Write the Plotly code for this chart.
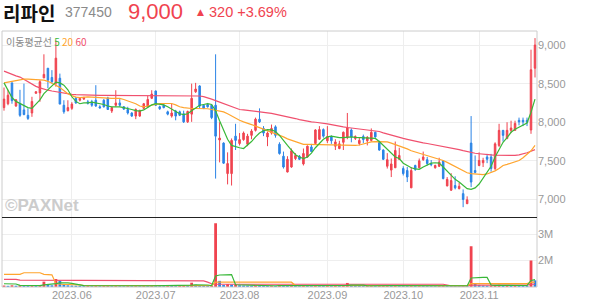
import pandas as pd
import plotly.graph_objects as go

# ---------------- data ----------------
holidays = ['2023-05-29', '2023-06-06', '2023-08-15', '2023-09-28', '2023-09-29',
            '2023-10-02', '2023-10-03', '2023-10-09']
dates = [d.strftime('%Y-%m-%d') for d in pd.bdate_range('2023-05-08', '2023-11-21')
         if d.strftime('%Y-%m-%d') not in holidays]

month_ticks = ['2023-06-01', '2023-07-03', '2023-08-01', '2023-09-01', '2023-10-04', '2023-11-01']
month_labels = ['2023.06', '2023.07', '2023.08', '2023.09', '2023.10', '2023.11']

opens = [8190,8240,8510,8210,8240,8160,8090,8120,8375,8380,
         8575,8700,8580,8505,8570,8220,8150,8180,8310,8285,
         8300,8265,8265,8285,8200,8285,8315,8145,8220,8250,
         8200,8165,8120,8080,8080,8180,8200,8310,8405,8200,
         8220,8135,8080,8145,8135,8110,8005,8105,8395,8470,
         8220,8230,8220,8220,7770,7730,7335,7335,7820,7725,
         7775,7715,7830,7895,8040,7920,7810,7860,7940,7715,
         7560,7355,7420,7530,7560,7460,7550,7680,7725,7780,
         7905,7760,7810,7690,7660,7740,7800,7900,7790,7725,
         7815,7760,7765,7870,7745,7640,7430,7380,7410,7520,
         7400,7375,7150,7440,7410,7515,7515,7465,7410,7430,
         7500,7175,7120,7180,7140,7075,6945,7730,7375,7440,
         7475,7550,7550,7400,7700,7895,7790,7895,7895,8025,
         8025,8025,7900,8700]
highs = [8450,8420,8510,8300,8420,8500,8180,8330,8400,8545,
         8880,8700,8675,9060,8630,8285,8285,8260,8330,8320,
         8330,8290,8290,8480,8220,8300,8330,8200,8415,8300,
         8210,8200,8130,8180,8160,8250,8340,8415,8410,8215,
         8240,8150,8240,8160,8150,8150,8150,8500,8510,8480,
         8230,8250,8230,8880,8000,7740,7610,7790,7980,7860,
         7880,7850,7910,8060,8180,7950,7880,7970,7960,7740,
         7620,7560,7660,7600,7575,7660,7700,7720,7910,7950,
         7920,7950,7830,7780,7760,7880,8120,7920,7830,7800,
         7840,7820,7920,7880,7760,7650,7600,7530,7750,7670,
         7430,7420,7420,7450,7530,7620,7550,7510,7450,7540,
         7510,7290,7340,7300,7220,7130,7040,8080,7570,7610,
         7540,7590,7590,7740,7980,7900,8000,8020,8020,8060,
         8060,8060,8940,9090]
lows = [8150,8220,8240,8200,8070,8090,8030,8070,8370,8265,
        8570,8440,8500,8460,8234,8110,8140,8160,8240,8270,
        8290,8230,8200,8200,8180,8190,8160,8120,8200,8200,
        8160,8100,8070,8040,8070,8170,8190,8300,8210,8160,
        8180,8090,8060,8025,8080,7990,7990,8005,8380,8180,
        8170,8190,8040,7270,7480,7460,7195,7180,7640,7700,
        7760,7690,7780,7880,7990,7820,7690,7840,7800,7580,
        7400,7350,7410,7510,7510,7440,7540,7620,7720,7770,
        7800,7730,7720,7640,7650,7640,7780,7740,7770,7700,
        7730,7700,7750,7800,7630,7510,7400,7290,7410,7510,
        7310,7225,7150,7370,7400,7500,7440,7430,7400,7420,
        7260,7170,7110,7130,7130,6900,6940,7160,7340,7430,
        7420,7470,7360,7380,7680,7750,7780,7860,7890,7960,
        7950,7950,7850,8580]
closes = [8300,8350,8280,8290,8090,8100,8050,8270,8395,8525,
          8620,8545,8525,8830,8235,8135,8190,8235,8250,8310,
          8320,8245,8220,8210,8185,8200,8165,8190,8250,8220,
          8170,8120,8080,8165,8155,8240,8295,8365,8220,8175,
          8190,8105,8120,8080,8090,8005,8140,8310,8430,8210,
          8180,8200,8060,7820,7795,7470,7465,7765,7765,7775,
          7860,7820,7885,8040,8005,7860,7860,7920,7830,7595,
          7420,7520,7630,7570,7520,7595,7690,7620,7900,7905,
          7820,7815,7760,7745,7720,7870,7930,7810,7815,7765,
          7775,7805,7870,7810,7640,7520,7515,7460,7635,7570,
          7335,7290,7375,7390,7500,7550,7465,7450,7440,7485,
          7270,7260,7245,7150,7170,7000,6995,7225,7350,7505,
          7505,7520,7400,7720,7895,7830,7895,7925,7985,8005,
          8005,8000,8680,9000]

ma5 = [8510,8420,8320,8270,8240,8210,8190,8180,8230,8290,
       8370,8420,8470,8520,8510,8480,8420,8330,8270,8240,
       8250,8250,8260,8250,8240,8230,8210,8200,8200,8200,
       8190,8180,8165,8150,8145,8160,8190,8225,8240,8235,
       8225,8200,8170,8130,8110,8100,8110,8150,8190,8220,
       8230,8240,8230,8150,8020,7900,7780,7700,7680,7670,
       7660,7700,7750,7810,7860,7890,7905,7900,7880,7830,
       7760,7700,7640,7580,7550,7530,7550,7600,7670,7730,
       7780,7810,7820,7810,7800,7800,7805,7810,7805,7800,
       7800,7795,7795,7790,7750,7700,7660,7600,7550,7530,
       7470,7440,7410,7395,7390,7420,7450,7470,7475,7470,
       7420,7370,7310,7260,7225,7180,7140,7130,7150,7200,
       7280,7350,7430,7550,7650,7740,7800,7870,7910,7940,
       7970,7990,8130,8300]
ma20 = [8510,8520,8530,8545,8555,8558,8558,8557,8556,8554,
        8545,8530,8510,8480,8450,8405,8370,8345,8325,8320,
        8325,8329,8325,8320,8315,8310,8308,8308,8308,8308,
        8295,8280,8264,8240,8210,8200,8210,8221,8230,8240,
        8243,8243,8243,8225,8200,8190,8180,8178,8178,8178,
        8178,8175,8165,8155,8145,8134,8110,8080,8050,8026,
        8005,7990,7970,7950,7930,7912,7895,7880,7860,7835,
        7810,7785,7765,7745,7725,7714,7712,7711,7710,7708,
        7705,7702,7701,7701,7701,7701,7701,7701,7701,7705,
        7720,7738,7745,7748,7750,7750,7745,7730,7712,7700,
        7680,7655,7630,7614,7600,7590,7575,7555,7535,7525,
        7505,7480,7455,7425,7400,7380,7345,7334,7328,7325,
        7322,7330,7347,7370,7400,7440,7455,7470,7490,7505,
        7540,7580,7630,7700]
ma60 = [8662,8640,8620,8600,8585,8555,8520,8490,8465,8445,
        8425,8415,8405,8395,8385,8375,8368,8362,8357,8354,
        8352,8350,8349,8348,8348,8348,8348,8348,8348,8348,
        8348,8348,8348,8348,8348,8348,8348,8348,8348,8348,
        8348,8347,8347,8346,8346,8346,8346,8346,8345,8340,
        8332,8320,8300,8280,8260,8240,8220,8200,8180,8165,
        8160,8155,8150,8143,8138,8130,8122,8115,8105,8095,
        8085,8072,8060,8048,8035,8022,8012,8005,8000,7995,
        7990,7980,7970,7958,7948,7940,7932,7925,7918,7912,
        7905,7898,7890,7885,7880,7862,7846,7830,7818,7805,
        7790,7778,7765,7750,7740,7732,7725,7716,7706,7697,
        7688,7680,7670,7658,7645,7632,7618,7606,7598,7592,
        7584,7580,7576,7573,7571,7570,7570,7570,7571,7578,
        7590,7605,7625,7645]

# volume in thousands of shares
volume = [1040,1030,1050,1035,1045,1030,1025,1040,1030,1045,
          1190,1060,1050,1290,1220,1100,1050,1040,1035,1030,
          1025,1030,1020,1035,1020,1025,1030,1020,1025,1020,
          1018,1022,1020,1025,1020,1035,1030,1040,1030,1020,
          1018,1030,1025,1020,1022,1040,1030,1150,1070,1050,
          1030,1025,1040,3430,1220,1060,1100,1080,1090,1050,
          1040,1035,1030,1045,1040,1030,1025,1030,1025,1060,
          1040,1030,1035,1025,1020,1030,1025,1020,1040,1035,
          1025,1030,1020,1025,1022,1040,1140,1050,1030,1025,
          1020,1022,1035,1025,1030,1035,1040,1030,1050,1035,
          1030,1025,1040,1025,1030,1028,1022,1020,1018,1025,
          1035,1030,1028,1022,1020,1035,1025,2550,1120,1060,
          1045,1035,1040,1060,1070,1045,1050,1040,1045,1035,
          1030,1028,2000,1240]
vol_ma5 = [1110,1110,1105,1100,1045,1040,1038,1036,1035,1035,
           1065,1075,1080,1115,1140,1150,1140,1125,1090,1050,
           1035,1032,1030,1030,1028,1028,1026,1026,1024,1022,
           1022,1021,1021,1022,1022,1025,1027,1030,1032,1031,
           1028,1027,1025,1023,1023,1027,1029,1053,1063,1068,
           1064,1061,1043,1410,1445,1450,1460,1460,1070,1065,
           1055,1050,1040,1038,1038,1036,1036,1034,1031,1037,
           1037,1038,1038,1034,1030,1028,1027,1026,1028,1030,
           1029,1028,1028,1028,1026,1027,1047,1055,1057,1057,
           1060,1029,1026,1027,1027,1029,1033,1034,1038,1039,
           1037,1036,1036,1031,1030,1030,1029,1025,1023,1022,
           1024,1025,1027,1027,1026,1027,1026,1331,1346,1352,
           1353,1351,1060,1048,1050,1050,1050,1052,1051,1049,
           1047,1042,1236,1266]
vol_ma20 = [1470,1470,1470,1470,1470,1530,1530,1530,1530,1530,
            1470,1460,1450,1110,1085,1080,1080,1078,1075,1070,
            1040,1040,1040,1040,1040,1040,1040,1040,1040,1040,
            1040,1040,1040,1040,1040,1040,1040,1040,1040,1040,
            1040,1040,1040,1040,1040,1040,1040,1040,1040,1040,
            1040,1040,1040,1170,1170,1170,1170,1170,1170,1170,
            1170,1170,1170,1170,1170,1170,1170,1170,1170,1170,
            1170,1170,1170,1040,1040,1040,1040,1040,1040,1040,
            1040,1040,1040,1040,1040,1040,1040,1040,1040,1040,
            1040,1040,1040,1040,1040,1040,1040,1040,1040,1040,
            1040,1040,1040,1040,1040,1040,1040,1040,1040,1040,
            1040,1040,1040,1040,1040,1040,1040,1115,1115,1115,
            1115,1115,1115,1115,1115,1115,1115,1115,1115,1115,
            1115,1115,1160,1170]
vol_ma60 = [1280,1280,1280,1280,1245,1245,1245,1245,1245,1245,
            1245,1245,1245,1245,1245,1245,1245,1245,1245,1245,
            1245,1245,1245,1245,1245,1245,1245,1245,1245,1245,
            1245,1245,1245,1245,1245,1245,1245,1245,1245,1245,
            1245,1245,1245,1245,1245,1245,1245,1245,1245,1245,
            1220,1170,1110,1090,1090,1090,1090,1090,1090,1090,
            1090,1090,1090,1090,1090,1090,1090,1090,1090,1090,
            1090,1090,1090,1090,1090,1090,1090,1090,1090,1090,
            1090,1090,1090,1090,1090,1090,1090,1090,1090,1090,
            1090,1090,1090,1090,1090,1090,1090,1090,1090,1090,
            1090,1090,1090,1090,1090,1090,1090,1090,1090,1090,
            1090,1060,1030,1030,1030,1030,1030,1060,1060,1060,
            1060,1060,1060,1060,1060,1060,1060,1060,1060,1060,
            1060,1060,1090,1090]

price_ticks = [7000, 7500, 8000, 8500, 9000]
vol_ticks = [2000, 3000]
vol_tick_labels = ['2M', '3M']

# ---------------- styles ----------------
RED = '#f0434f'
BLUE = '#2b84e6'
GREEN = '#38b838'
ORANGE = '#ffa52e'
PINK = '#f0506e'
GRID = '#eeeeee'
LABEL = '#999999'
FONT = 'Liberation Sans, Noto Sans CJK KR, sans-serif'

W, H = 594, 304
ML, MR, MT, MB = 2, 57, 31, 17
plot_w = W - ML - MR
plot_h = H - MT - MB
split = (H - MB - 217.5) / plot_h  # volume panel top fraction


def px(x):
    return (x - ML) / plot_w


def py(y):
    return (H - MB - y) / plot_h


fig = go.Figure()

fig.add_trace(go.Candlestick(
    x=dates, open=opens, high=highs, low=lows, close=closes,
    increasing=dict(line=dict(color=RED, width=1), fillcolor=RED),
    decreasing=dict(line=dict(color=BLUE, width=1), fillcolor=BLUE),
    whiskerwidth=0, xaxis='x', yaxis='y', showlegend=False, hoverinfo='skip'))

for vals, col in [(ma60, PINK), (ma20, ORANGE), (ma5, GREEN)]:
    fig.add_trace(go.Scatter(x=dates, y=vals, mode='lines', line=dict(color=col, width=1.2),
                             xaxis='x', yaxis='y', showlegend=False, hoverinfo='skip'))

bar_colors = [RED if i == 0 or volume[i] >= volume[i - 1] else BLUE for i in range(len(volume))]
fig.add_trace(go.Bar(x=dates, y=volume, marker=dict(color=bar_colors, line=dict(width=0)),
                     xaxis='x2', yaxis='y2', showlegend=False, hoverinfo='skip'))
for vals, col in [(vol_ma60, PINK), (vol_ma20, ORANGE), (vol_ma5, GREEN)]:
    fig.add_trace(go.Scatter(x=dates, y=vals, mode='lines', line=dict(color=col, width=1.2),
                             xaxis='x2', yaxis='y2', showlegend=False, hoverinfo='skip'))

xcommon = dict(type='category', categoryorder='array', categoryarray=dates,
               range=[-0.5, len(dates) - 0.5], tickvals=month_ticks, ticktext=month_labels,
               showgrid=True, gridcolor=GRID, gridwidth=1, zeroline=False, showline=False,
               ticks='', fixedrange=True, rangeslider=dict(visible=False))

fig.update_layout(
    width=W, height=H, margin=dict(l=ML, r=MR, t=MT, b=MB),
    paper_bgcolor='white', plot_bgcolor='white',
    font=dict(family=FONT, size=11, color=LABEL),
    bargap=0.3, boxgap=0.45,
    xaxis=dict(xcommon, anchor='y', domain=[0, 1], showticklabels=False),
    xaxis2=dict(xcommon, anchor='y2', domain=[0, 1], showticklabels=True,
                tickfont=dict(size=11, color=LABEL, family=FONT)),
    yaxis=dict(domain=[split, 1], range=[6766, 9182], side='right', tickvals=price_ticks,
               tickformat=',', showgrid=True, gridcolor=GRID, zeroline=False, ticks='',
               tickfont=dict(size=11, color=LABEL, family=FONT), fixedrange=True),
    yaxis2=dict(domain=[0, split], range=[985, 3646], side='right', tickvals=vol_ticks,
                ticktext=vol_tick_labels, showgrid=True, gridcolor=GRID, zeroline=False, ticks='',
                tickfont=dict(size=11, color=LABEL, family=FONT), fixedrange=True),
    shapes=[
        dict(type='rect', xref='paper', yref='paper', x0=0, x1=1, y0=0, y1=1,
             line=dict(color='#cccccc', width=1), layer='above'),
        dict(type='line', xref='paper', yref='paper', x0=0, x1=1, y0=split, y1=split,
             line=dict(color='#222222', width=1), layer='above'),
    ],
    annotations=[
        dict(xref='paper', yref='paper', x=px(1), y=py(12), xanchor='left', yanchor='middle',
             text='<b>리파인</b>', showarrow=False,
             font=dict(family='Noto Sans CJK KR', size=19, color='#111111')),
        dict(xref='paper', yref='paper', x=px(63), y=py(12), xanchor='left', yanchor='middle',
             text='377450', showarrow=False, font=dict(family=FONT, size=14, color='#8a8a8a')),
        dict(xref='paper', yref='paper', x=px(126), y=py(11), xanchor='left', yanchor='middle',
             text='9,000', showarrow=False, font=dict(family=FONT, size=22, color=RED)),
        dict(xref='paper', yref='paper', x=px(195), y=py(12), xanchor='left', yanchor='middle',
             text='▲', showarrow=False, font=dict(family='DejaVu Sans', size=9, color=RED)),
        dict(xref='paper', yref='paper', x=px(207), y=py(12), xanchor='left', yanchor='middle',
             text='320 +3.69%', showarrow=False, font=dict(family=FONT, size=14.5, color=RED)),
        dict(xref='paper', yref='paper', x=px(4), y=py(41), xanchor='left', yanchor='middle',
             text=('이동평균선 <span style="color:%s">5</span> <span style="color:%s">20</span> '
                   '<span style="color:%s">60</span>') % (GREEN, ORANGE, PINK),
             showarrow=False, font=dict(family='Noto Sans CJK KR', size=10, color='#8a8a8a')),
        dict(xref='paper', yref='paper', x=px(3), y=py(205), xanchor='left', yanchor='middle',
             text='<b>©PAXNet</b>', showarrow=False,
             font=dict(family=FONT, size=17, color='#cccccc')),
    ],
)

fig.write_html('out.html')
